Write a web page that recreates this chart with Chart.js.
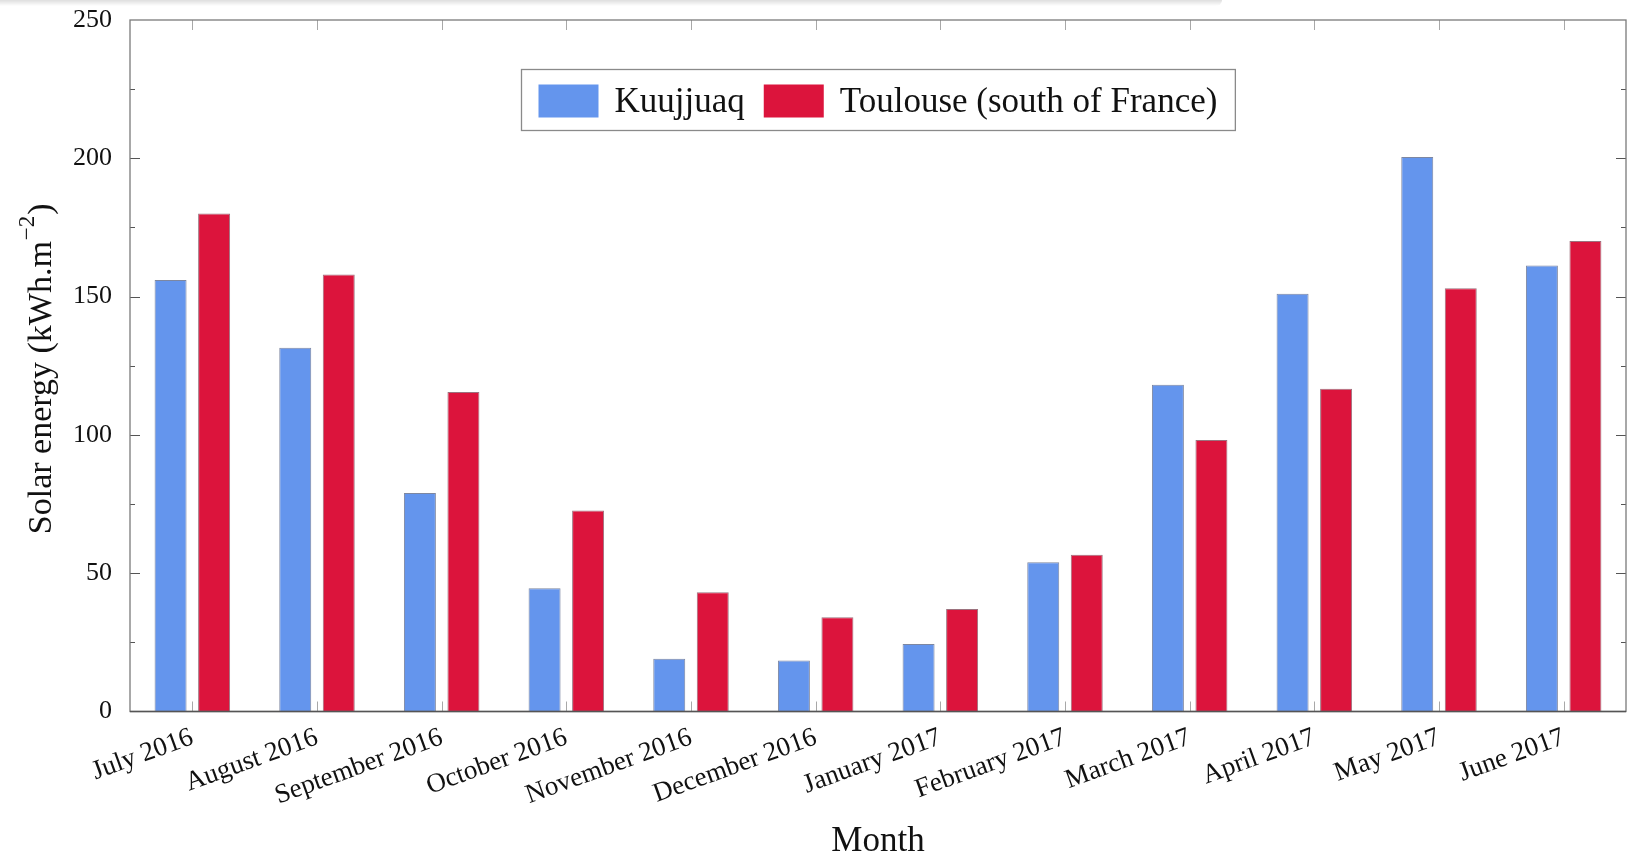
<!DOCTYPE html>
<html>
<head>
<meta charset="utf-8">
<title>Monthly solar energy: Kuujjuaq vs Toulouse</title>
<script src="https://cdn.jsdelivr.net/npm/chart.js@4/dist/chart.umd.min.js"></script>
<style>
  html, body { margin: 0; padding: 0; background: #ffffff; }
  #wrap { position: relative; width: 1627px; height: 853px; overflow: hidden; }
  #shade {
    position: absolute; left: 0; top: 0; width: 1222px; height: 6px;
    background: linear-gradient(to bottom, rgba(0,0,0,0.13), rgba(0,0,0,0));
    border-bottom-right-radius: 6px;
  }
  canvas { display: block; }
</style>
</head>
<body>
<div id="wrap">
  <canvas id="chart" width="1627" height="853" style="width:1627px;height:853px"></canvas>
  <div id="shade"></div>
</div>
<script>
// Monthly solar energy received (kWh per square metre)
const months = [
  'July 2016', 'August 2016', 'September 2016', 'October 2016',
  'November 2016', 'December 2016', 'January 2017', 'February 2017',
  'March 2017', 'April 2017', 'May 2017', 'June 2017'
];
const kuujjuaq = [156, 131.5, 79, 44.6, 19.1, 18.4, 24.4, 54, 118.1, 151, 200.5, 161.2];
const toulouse = [180, 158, 115.5, 72.7, 43.1, 34.1, 37.1, 56.7, 98.2, 116.7, 153, 170.1];
const yTicks = [0, 50, 100, 150, 200, 250];

const SERIF = '"Liberation Serif", "Times New Roman", serif';

// Axis frame, inward ticks, legend box and axis titles
const framePlugin = {
  id: 'frame',
  afterDraw(chart) {
    const ctx = chart.ctx;
    const a = chart.chartArea;
    const xs = chart.scales.x, ys = chart.scales.y;
    ctx.save();

    // inward ticks
    ctx.lineWidth = 1;
    ctx.strokeStyle = '#555';
    ctx.beginPath();
    for (let v = ys.min; v <= ys.max; v += 25) {
      if (v === ys.min || v === ys.max) continue;
      const y = Math.round(ys.getPixelForValue(v)) + 0.5;
      const len = (v % 50 === 0) ? 10 : 5;
      ctx.moveTo(a.left, y); ctx.lineTo(a.left + len, y);
      ctx.moveTo(a.right, y); ctx.lineTo(a.right - len, y);
    }
    ctx.stroke();

    ctx.strokeStyle = '#a8a8a8';
    ctx.beginPath();
    for (let i = 0; i < months.length; i++) {
      const x = Math.round(xs.getPixelForTick(i)) + 0.5;
      ctx.moveTo(x, a.top); ctx.lineTo(x, a.top + 10);
      ctx.moveTo(x, a.bottom); ctx.lineTo(x, a.bottom - 10);
    }
    ctx.stroke();

    // frame
    ctx.strokeStyle = '#7a7a7a';
    ctx.lineWidth = 1.3;
    ctx.strokeRect(a.left, a.top, a.right - a.left, a.bottom - a.top);
    ctx.strokeStyle = '#555';
    ctx.beginPath();
    ctx.moveTo(a.left, a.bottom); ctx.lineTo(a.right, a.bottom);
    ctx.stroke();

    // legend
    const items = chart.data.datasets.map(d => ({ label: d.label, color: d.backgroundColor }));
    ctx.font = '35px ' + SERIF;
    const padL = 17, sw = 60, sh = 33, gapT = 16, gapItem = 19, padR = 18;
    let total = padL + padR;
    items.forEach((it, i) => {
      it.w = ctx.measureText(it.label).width;
      total += sw + gapT + it.w + (i < items.length - 1 ? gapItem : 0);
    });
    const cx = (a.left + a.right) / 2;
    const bx = Math.round(cx - total / 2) + 0.5, by = 69.5, bh = 61;
    ctx.fillStyle = '#ffffff';
    ctx.fillRect(bx, by, total, bh);
    ctx.strokeStyle = '#8a8a8a';
    ctx.lineWidth = 1.3;
    ctx.strokeRect(bx, by, total, bh);
    let x = bx + padL;
    ctx.textBaseline = 'alphabetic';
    ctx.textAlign = 'left';
    items.forEach((it) => {
      ctx.fillStyle = it.color;
      ctx.fillRect(x, 84.5, sw, sh);
      x += sw + gapT;
      ctx.fillStyle = '#111';
      ctx.fillText(it.label, x, 112);
      x += it.w + gapItem;
    });

    // x-axis title
    ctx.fillStyle = '#111';
    ctx.textAlign = 'center';
    ctx.font = '35px ' + SERIF;
    ctx.fillText('Month', cx, 851);

    // y-axis title with superscript unit
    const main1 = 'Solar energy (kWh.m', sup = '\u22122', main2 = ')';
    ctx.translate(51, (a.top + a.bottom) / 2 + 3);
    ctx.rotate(-Math.PI / 2);
    ctx.textAlign = 'left';
    ctx.font = '34px ' + SERIF;
    const w1 = ctx.measureText(main1).width, w3 = ctx.measureText(main2).width;
    ctx.font = '23px ' + SERIF;
    const w2 = ctx.measureText(sup).width;
    let tx = -(w1 + w2 + w3 + 2) / 2;
    ctx.font = '34px ' + SERIF;
    ctx.fillText(main1, tx, 0);
    tx += w1 + 1;
    ctx.font = '23px ' + SERIF;
    ctx.fillText(sup, tx, -17);
    tx += w2 + 1;
    ctx.font = '34px ' + SERIF;
    ctx.fillText(main2, tx, 0);

    ctx.restore();
  }
};

const barStyle = {
  borderWidth: 1,
  borderSkipped: 'start',
  categoryPercentage: 0.698,
  barPercentage: 0.735
};

new Chart(document.getElementById('chart'), {
  type: 'bar',
  data: {
    labels: months,
    datasets: [
      Object.assign({ label: 'Kuujjuaq', data: kuujjuaq,
        backgroundColor: '#6495ED', borderColor: 'rgba(55,70,110,0.65)' }, barStyle),
      Object.assign({ label: 'Toulouse (south of France)', data: toulouse,
        backgroundColor: '#DC143C', borderColor: 'rgba(90,20,40,0.6)' }, barStyle)
    ]
  },
  options: {
    responsive: false,
    animation: false,
    devicePixelRatio: 1,
    layout: { padding: { top: 20, right: 1, bottom: 0, left: 0 } },
    plugins: { legend: { display: false }, tooltip: { enabled: false } },
    scales: {
      x: {
        grid: { display: false, drawTicks: false },
        border: { display: false },
        ticks: {
          autoSkip: false, minRotation: 20, maxRotation: 20,
          padding: 10, color: '#111',
          font: { family: SERIF, size: 27 }
        },
        afterFit(scale) {
          scale.height = 141.5;
          scale.paddingLeft = 0; scale.paddingRight = 0;
          scale.paddingTop = 0; scale.paddingBottom = 0;
        }
      },
      y: {
        min: 0, max: 250,
        afterBuildTicks(scale) { scale.ticks = yTicks.map(v => ({ value: v })); },
        grid: { display: false, drawTicks: false },
        border: { display: false },
        ticks: { padding: 18, color: '#111', font: { family: SERIF, size: 26 } },
        afterFit(scale) {
          scale.width = 130;
          scale.paddingTop = 0; scale.paddingBottom = 0;
          scale.paddingLeft = 0; scale.paddingRight = 0;
        }
      }
    }
  },
  plugins: [framePlugin]
});
</script>
</body>
</html>
